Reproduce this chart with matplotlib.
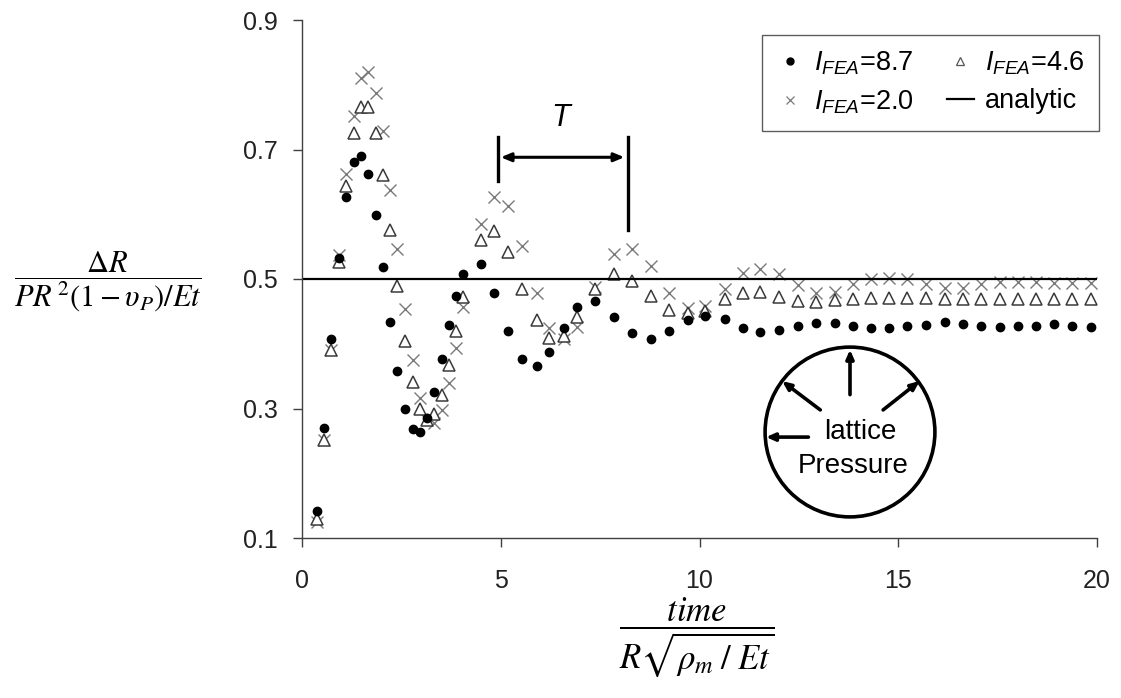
"""Radial response of a lattice cylinder under pressure: FEA vs analytic."""

import matplotlib
matplotlib.use("Agg")
import matplotlib.pyplot as plt
from matplotlib.lines import Line2D
from matplotlib.patches import Circle
from matplotlib.font_manager import FontProperties

plt.rcParams["font.family"] = ["Liberation Sans", "DejaVu Sans"]
plt.rcParams["mathtext.fontset"] = "custom"
plt.rcParams["mathtext.rm"] = "Liberation Sans"
plt.rcParams["mathtext.it"] = "Liberation Sans:italic"

# normalised time (shared by all three FEA runs)
time = [0.38, 0.56, 0.74, 0.94, 1.11, 1.30, 1.48, 1.66, 1.85, 2.05, 2.22,
        2.40, 2.60, 2.78, 2.96, 3.15, 3.33, 3.51, 3.70, 3.88, 4.06,
        4.51, 4.83, 5.19, 5.54, 5.90, 6.22, 6.58, 6.93,
        7.38, 7.85, 8.31, 8.77, 9.24, 9.70, 10.15, 10.64,
        11.09, 11.53, 12.00, 12.47, 12.93, 13.41, 13.85, 14.31, 14.77, 15.23,
        15.70, 16.17, 16.62, 17.07, 17.56, 18.00, 18.46, 18.92, 19.38, 19.84]

fea_87 = [0.141, 0.270, 0.407, 0.532, 0.626, 0.680, 0.690, 0.662, 0.599, 0.519, 0.433,
          0.358, 0.300, 0.269, 0.264, 0.285, 0.325, 0.376, 0.429, 0.474, 0.508,
          0.523, 0.479, 0.420, 0.376, 0.366, 0.388, 0.425, 0.456,
          0.466, 0.442, 0.416, 0.407, 0.420, 0.436, 0.443, 0.438,
          0.425, 0.418, 0.421, 0.427, 0.432, 0.432, 0.428, 0.425, 0.425, 0.428,
          0.429, 0.433, 0.430, 0.428, 0.426, 0.428, 0.428, 0.430, 0.428, 0.426]

fea_46 = [0.129, 0.251, 0.391, 0.527, 0.644, 0.726, 0.766, 0.765, 0.726, 0.660, 0.576,
          0.489, 0.405, 0.341, 0.299, 0.282, 0.291, 0.321, 0.367, 0.419, 0.472,
          0.560, 0.574, 0.541, 0.485, 0.437, 0.409, 0.412, 0.441,
          0.484, 0.508, 0.497, 0.473, 0.452, 0.447, 0.451, 0.469,
          0.479, 0.480, 0.472, 0.466, 0.465, 0.468, 0.469, 0.470, 0.470, 0.470,
          0.470, 0.469, 0.469, 0.469, 0.469, 0.469, 0.469, 0.469, 0.469, 0.469]

fea_20 = [0.125, 0.251, 0.391, 0.537, 0.662, 0.752, 0.811, 0.819, 0.788, 0.728, 0.638,
          0.547, 0.454, 0.375, 0.316, 0.283, 0.277, 0.298, 0.339, 0.394, 0.457,
          0.585, 0.627, 0.612, 0.551, 0.479, 0.424, 0.408, 0.426,
          0.487, 0.538, 0.547, 0.520, 0.479, 0.455, 0.459, 0.485,
          0.510, 0.516, 0.507, 0.491, 0.479, 0.480, 0.492, 0.500, 0.502, 0.500,
          0.493, 0.486, 0.486, 0.492, 0.496, 0.496, 0.496, 0.494, 0.494, 0.494]

analytic = 0.5
period_start, period_end = 4.92, 8.19

fig = plt.figure(figsize=(11.21, 6.98), dpi=100)
ax = fig.add_axes([302 / 1121, 1 - 538 / 698, 795 / 1121, 518 / 698])

ax.plot(time, fea_20, ls="none", marker="x", ms=8.5, mew=1.0, color="#7a7a7a")
ax.plot(time, fea_46, ls="none", marker="^", ms=9, mew=1.1, mfc="white",
        mec="#3a3a3a")
ax.plot(time, fea_87, ls="none", marker="o", ms=6, color="black")
ax.axhline(analytic, color="black", lw=1.6)

# period annotation
ax.plot([period_start, period_start], [0.651, 0.719], color="black", lw=2.4)
ax.plot([period_end, period_end], [0.576, 0.719], color="black", lw=2.4)
ax.annotate("", xy=(period_end - 0.08, 0.688), xytext=(period_start + 0.08, 0.688),
            arrowprops=dict(arrowstyle="<|-|>,head_length=0.6,head_width=0.25",
                            color="black", lw=2.2, shrinkA=0, shrinkB=0))
ax.text((period_start + period_end) / 2, 0.749, "$T$", fontsize=22,
        ha="center", va="center")

ax.set_xlim(0, 20)
ax.set_ylim(0.1, 0.9)
ax.set_xticks([0, 5, 10, 15, 20])
ax.set_yticks([0.1, 0.3, 0.5, 0.7, 0.9])
ax.set_yticklabels(["0.1", "0.3", "0.5", "0.7", "0.9"])
for side in ("top", "right"):
    ax.spines[side].set_visible(False)
for side in ("left", "bottom"):
    ax.spines[side].set_color("#404040")
    ax.spines[side].set_linewidth(1.0)
ax.tick_params(axis="both", direction="out", length=6.5, width=1.0,
               color="#404040", labelsize=18, labelcolor="#222222")
ax.tick_params(axis="x", pad=16)
ax.tick_params(axis="y", pad=11)

handles = [
    Line2D([], [], ls="none", marker="o", ms=5, color="black"),
    Line2D([], [], ls="none", marker="x", ms=6, mew=0.9, color="#7a7a7a"),
    Line2D([], [], ls="none", marker="^", ms=6, mew=0.9, mfc="white", mec="#555555"),
    Line2D([], [], color="black", lw=1.6),
]
labels = ["$I_{FEA}$=8.7", "$I_{FEA}$=2.0", "$I_{FEA}$=4.6", "analytic"]
leg = ax.legend(handles, labels, ncol=2, loc="upper right",
                bbox_to_anchor=(1099 / 1121, 1 - 35 / 698),
                bbox_transform=fig.transFigure, borderaxespad=0,
                prop=FontProperties(family="Liberation Sans", size=19.5),
                frameon=True, fancybox=False, edgecolor="#333333",
                handlelength=1.0, handletextpad=0.4, columnspacing=1.2,
                labelspacing=0.4, borderpad=0.55)
leg.get_frame().set_linewidth(1.0)

# inset sketch of the pressurised lattice ring
ins = fig.add_axes([(850 - 90) / 1121, 1 - (432 + 90) / 698, 180 / 1121, 180 / 698])
ins.set_xlim(-1.06, 1.06)
ins.set_ylim(-1.06, 1.06)
ins.set_aspect("equal")
ins.axis("off")
ins.add_patch(Circle((0, 0), 1.0, fill=False, lw=2.6, color="black"))
arrow_kw = dict(arrowstyle="-|>,head_length=0.5,head_width=0.22", color="black",
                lw=2.6, shrinkA=0, shrinkB=0)
for start, end in [((0, 0.44), (0, 0.97)), ((-0.35, 0.26), (-0.80, 0.60)),
                   ((0.39, 0.26), (0.82, 0.60)), ((-0.49, -0.06), (-0.99, -0.06))]:
    ins.annotate("", xy=end, xytext=start, arrowprops=arrow_kw)
ins.text(0.12, 0.0, "lattice", fontsize=20, ha="center", va="center")
ins.text(0.04, -0.40, "Pressure", fontsize=20, ha="center", va="center")

fig.text(108 / 1121, 1 - 282 / 698,
         r"$\dfrac{\Delta R}{PR^{\,2}\left(1-\upsilon_P\right)/Et}$",
         fontsize=22, ha="center", va="center", math_fontfamily="stix")
fig.text(697 / 1121, 1 - 638 / 698,
         r"$\dfrac{time}{R\sqrt{\rho_m\;/\;Et}}$",
         fontsize=25, ha="center", va="center", math_fontfamily="stix")

fig.savefig("out.png", dpi=100)
